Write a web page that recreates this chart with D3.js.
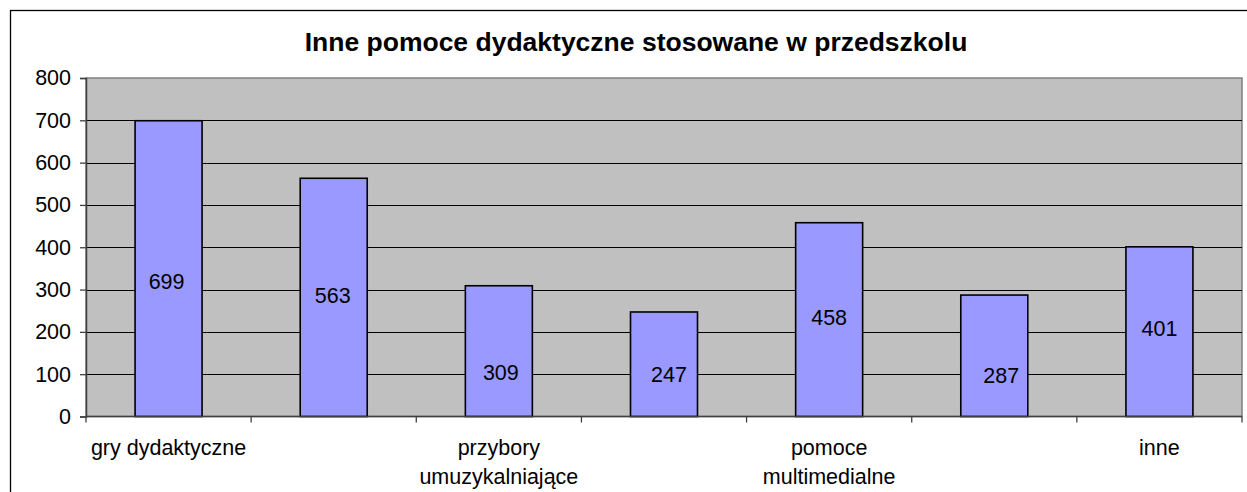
<!DOCTYPE html>
<html>
<head>
<meta charset="utf-8">
<script src="https://cdn.jsdelivr.net/npm/d3@7"></script>
<style>
  html, body { margin: 0; padding: 0; background: #fff; }
  svg { display: block; font-family: "Liberation Sans", Arial, sans-serif; }
</style>
</head>
<body>
<svg id="chart" width="1247" height="492"></svg>
<script>
// ---- data ----
const title = "Inne pomoce dydaktyczne stosowane w przedszkolu";
const categories = [
  ["gry dydaktyczne"],
  [""],
  ["przybory", "umuzykalniające"],
  [""],
  ["pomoce", "multimedialne"],
  [""],
  ["inne"]
];
const values = [699, 563, 309, 247, 458, 287, 401];
const yTicks = [0, 100, 200, 300, 400, 500, 600, 700, 800];

// ---- layout ----
const svg = d3.select("#chart");
const plot = { left: 86, right: 1242, top: 78, bottom: 416.5 };

// outer chart border
svg.append("rect")
  .attr("x", 10.5).attr("y", 10.5)
  .attr("width", 1400).attr("height", 700)
  .attr("fill", "#fff").attr("stroke", "#000").attr("stroke-width", 1.3);

const x = d3.scaleBand()
  .domain(d3.range(categories.length))
  .range([plot.left, plot.right])
  .paddingInner(0).paddingOuter(0);

const y = d3.scaleLinear()
  .domain([0, 800])
  .range([plot.bottom, plot.top]);

// plot background
svg.append("rect")
  .attr("x", plot.left).attr("y", plot.top)
  .attr("width", plot.right - plot.left).attr("height", plot.bottom - plot.top)
  .attr("fill", "#C0C0C0").attr("stroke", "#808080").attr("stroke-width", 1.5);

// gridlines
svg.append("g")
  .selectAll("line")
  .data(yTicks.filter(t => t > 0 && t < 800))
  .join("line")
  .attr("x1", plot.left).attr("x2", plot.right)
  .attr("y1", d => Math.round(y(d)) + 0.5).attr("y2", d => Math.round(y(d)) + 0.5)
  .attr("stroke", "#000").attr("stroke-width", 1);

// y axis
const yAxis = svg.append("g")
  .attr("transform", `translate(${plot.left},0)`)
  .call(d3.axisLeft(y).tickValues(yTicks).tickSize(6).tickPadding(9).tickFormat(d3.format("d")));
yAxis.select(".domain").attr("stroke", "#404040").attr("stroke-width", 1.5);
yAxis.selectAll(".tick line").attr("stroke", "#404040").attr("stroke-width", 1.3);
yAxis.selectAll(".tick text")
  .attr("font-size", 21.5).attr("fill", "#000")
  .attr("font-family", "Liberation Sans, Arial, sans-serif");

// bars
const barW = 67;
svg.append("g")
  .selectAll("rect")
  .data(values)
  .join("rect")
  .attr("x", (d, i) => x(i) + x.bandwidth() / 2 - barW / 2)
  .attr("y", d => y(d))
  .attr("width", barW)
  .attr("height", d => y(0) - y(d))
  .attr("fill", "#9999FF")
  .attr("stroke", "#000")
  .attr("stroke-width", 1.6);

// x axis line + ticks at category boundaries
const xg = svg.append("g");
xg.append("line")
  .attr("x1", plot.left).attr("x2", plot.right)
  .attr("y1", plot.bottom).attr("y2", plot.bottom)
  .attr("stroke", "#404040").attr("stroke-width", 1.5);
xg.selectAll("line.tk")
  .data(d3.range(categories.length + 1))
  .join("line").attr("class", "tk")
  .attr("x1", i => (i < categories.length ? x(i) : plot.right))
  .attr("x2", i => (i < categories.length ? x(i) : plot.right))
  .attr("y1", plot.bottom).attr("y2", plot.bottom + 6)
  .attr("stroke", "#404040").attr("stroke-width", 1.3);

// category labels
const catG = svg.append("g");
categories.forEach((lines, i) => {
  const t = catG.append("text")
    .attr("x", x(i) + x.bandwidth() / 2)
    .attr("y", 455)
    .attr("text-anchor", "middle")
    .attr("font-size", 21.5)
    .attr("fill", "#000");
  lines.forEach((ln, j) => {
    t.append("tspan")
      .attr("x", x(i) + x.bandwidth() / 2)
      .attr("dy", j === 0 ? 0 : 29)
      .text(ln);
  });
});

// value labels (placed as in the original chart)
const labelAt = [318, 287, 105, 100, 235, 98, 207];
const labelNudge = [-2, -1, 2, 5, 0, 7, 0];
svg.append("g")
  .selectAll("text")
  .data(values)
  .join("text")
  .attr("x", (d, i) => x(i) + x.bandwidth() / 2 + labelNudge[i])
  .attr("y", (d, i) => y(labelAt[i]))
  .attr("dy", "0.35em")
  .attr("text-anchor", "middle")
  .attr("font-size", 21.5)
  .attr("fill", "#000")
  .text(d => d);

// title
svg.append("text")
  .attr("x", 636)
  .attr("y", 51)
  .attr("text-anchor", "middle")
  .attr("font-size", 26.5)
  .attr("font-weight", "bold")
  .attr("fill", "#000")
  .text(title);
</script>
</body>
</html>
